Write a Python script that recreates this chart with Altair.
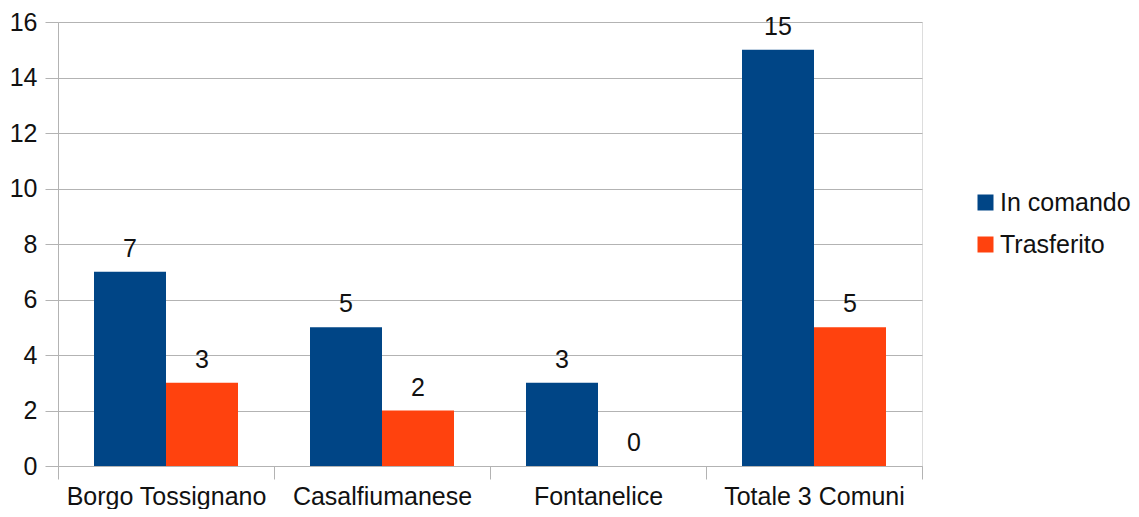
import altair as alt
import pandas as pd

categories = ["Borgo Tossignano", "Casalfiumanese", "Fontanelice", "Totale 3 Comuni"]
series = ["In comando", "Trasferito"]
in_comando = [7, 5, 3, 15]
trasferito = [3, 2, 0, 5]
colors = ["#004586", "#ff420e"]
y_ticks = [0, 2, 4, 6, 8, 10, 12, 14, 16]

rows = []
for c, a, b in zip(categories, in_comando, trasferito):
    rows.append({"Comune": c, "Serie": series[0], "Valore": a})
    rows.append({"Comune": c, "Serie": series[1], "Valore": b})
df = pd.DataFrame(rows)

FONT = "Liberation Sans"
FS = 25
GRAY = "#b3b3b3"
TXT = "#111111"

x = alt.X(
    "Comune:N",
    sort=categories,
    scale=alt.Scale(paddingInner=0, paddingOuter=0),
    axis=alt.Axis(
        title=None, labelAngle=0, tickBand="extent", tickSize=13,
        labelPadding=5, labelLimit=0, domainColor=GRAY, tickColor=GRAY, grid=False,
        labelFontSize=FS, labelFont=FONT, labelColor=TXT,
    ),
)
xo = alt.XOffset("Serie:N", sort=series, scale=alt.Scale(paddingOuter=0.5, paddingInner=0))
y = alt.Y(
    "Valore:Q",
    scale=alt.Scale(domain=[0, 16], nice=False),
    axis=alt.Axis(
        title=None, values=y_ticks, tickSize=13, labelPadding=8,
        domainColor=GRAY, tickColor=GRAY, gridColor=GRAY, grid=True,
        labelFontSize=FS, labelFont=FONT, labelColor=TXT,
    ),
)
color = alt.Color(
    "Serie:N",
    sort=series,
    scale=alt.Scale(domain=series, range=colors),
    legend=alt.Legend(
        title=None, orient="none", legendX=915, legendY=168,
        symbolType="square", symbolSize=256, symbolStrokeWidth=0,
        labelFontSize=FS, labelFont=FONT, labelColor=TXT,
        rowPadding=16, labelOffset=2, padding=0, labelLimit=0,
    ),
)

bars = alt.Chart(df).mark_bar().encode(x=x, xOffset=xo, y=y, color=color)
labels = alt.Chart(df).mark_text(
    baseline="alphabetic", dy=-15, fontSize=FS, font=FONT, color=TXT
).encode(x=x, xOffset=xo, y=y, text="Valore:Q")

chart = (
    alt.layer(bars, labels)
    .properties(
        width=864, height=444,
        autosize=alt.AutoSizeParams(type="none"),
        padding={"left": 50, "top": 14, "right": 209, "bottom": 43},
    )
    .configure_view(stroke=GRAY, strokeWidth=1)
    .configure(background="white")
)

chart.save("out.html", embed_options={"renderer": "svg", "actions": False})
